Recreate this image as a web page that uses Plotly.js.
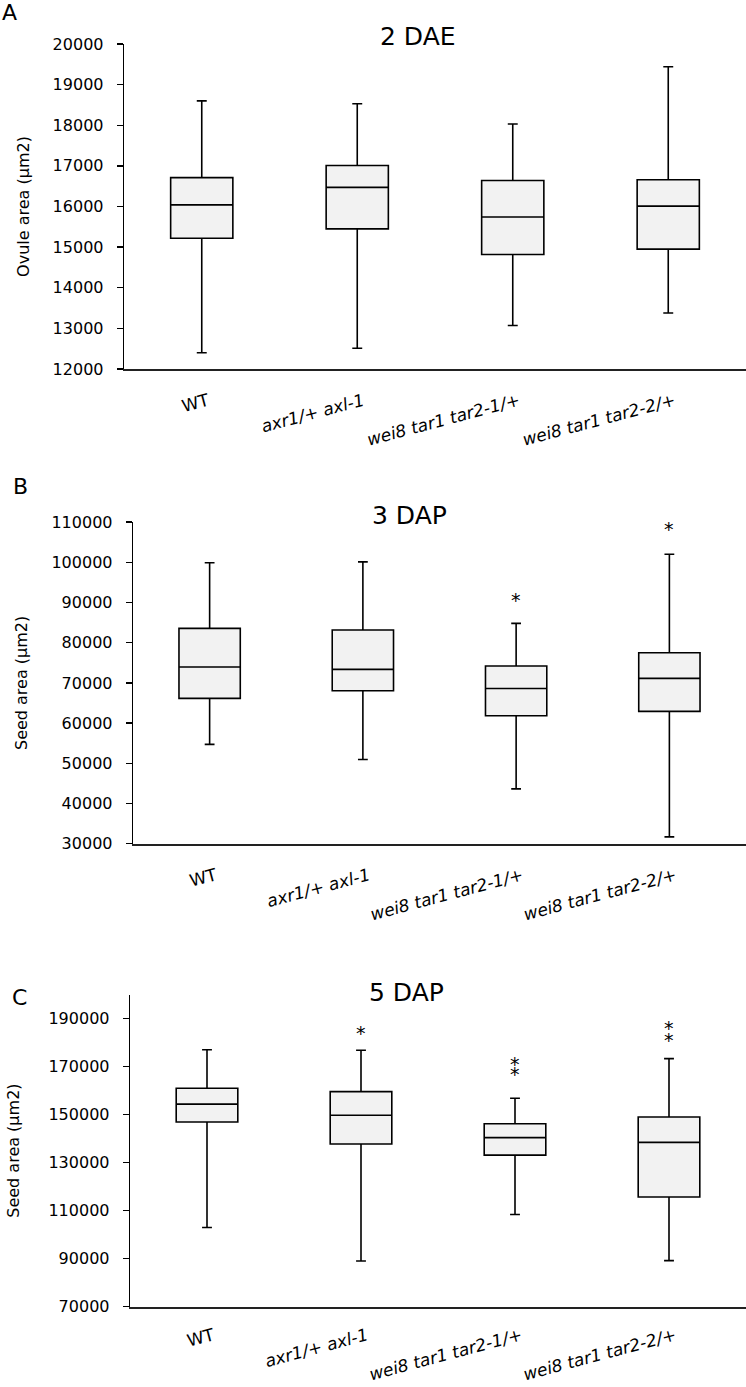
<!DOCTYPE html>
<html>
<head>
<meta charset="utf-8">
<script src="https://cdn.plot.ly/plotly-3.0.1.min.js"></script>
<style>html,body{margin:0;padding:0;background:#fff;}#chart{width:746px;height:1387px;}</style>
</head>
<body>
<div id="chart"></div>
<script>
// ---- data ----
const categories = ['WT', 'axr1/+ axl-1', 'wei8 tar1 tar2-1/+', 'wei8 tar1 tar2-2/+'];
const tickLabels = ['WT', '<i>axr1/+ axl-1</i>', '<i>wei8 tar1 tar2-1/+</i>', '<i>wei8 tar1 tar2-2/+</i>'];

// Panel A: 2 DAE, ovule area (µm2)
const dae2Min    = [12400, 12510, 13070, 13380];
const dae2Q1     = [15220, 15450, 14820, 14950];
const dae2Median = [16040, 16470, 15740, 16010];
const dae2Q3     = [16710, 17010, 16640, 16660];
const dae2Max    = [18600, 18530, 18030, 19440];

// Panel B: 3 DAP, seed area (µm2)
const dap3Min    = [54700, 50960, 43640, 31700];
const dap3Q1     = [66140, 68040, 61820, 62910];
const dap3Median = [73940, 73360, 68600, 71120];
const dap3Q3     = [83570, 83150, 74190, 77500];
const dap3Max    = [99900, 100100, 84810, 101990];
const dap3StarX  = ['wei8 tar1 tar2-1/+', 'wei8 tar1 tar2-2/+'];
const dap3StarY  = [91600, 109300];

// Panel C: 5 DAP, seed area (µm2)
const dap5Min    = [103000, 89000, 108400, 89200];
const dap5Q1     = [146900, 137760, 133120, 115700];
const dap5Median = [154350, 149700, 140420, 138440];
const dap5Q3     = [160970, 159540, 146200, 149000];
const dap5Max    = [177000, 176800, 156800, 173300];
const dap5StarX  = ['axr1/+ axl-1', 'wei8 tar1 tar2-1/+', 'wei8 tar1 tar2-1/+', 'wei8 tar1 tar2-2/+', 'wei8 tar1 tar2-2/+'];
const dap5StarY  = [185600, 172900, 168400, 187700, 182700];

const panelTitles = ['2 DAE', '3 DAP', '5 DAP'];
const panelLetters = ['A', 'B', 'C'];
const yTitles = ['Ovule area (µm2)', 'Seed area (µm2)', 'Seed area (µm2)'];

// ---- drawing ----
const FONT = 'DejaVu Sans';
function boxTrace(q1, med, q3, lo, hi, xa, ya) {
  return {
    type: 'box', x: categories, q1: q1, median: med, q3: q3,
    lowerfence: lo, upperfence: hi, boxpoints: false,
    xaxis: xa, yaxis: ya, width: 0.4, whiskerwidth: 0.16,
    fillcolor: '#f2f2f2', line: {color: '#000', width: 1.6},
    hoverinfo: 'skip', showlegend: false
  };
}
function starAnnotations(xs, ys, xa, ya) {
  return xs.map((x, i) => ({
    text: '*', x: x, y: ys[i], xref: xa, yref: ya, showarrow: false,
    xanchor: 'center', yanchor: 'middle', yshift: -4,
    font: {family: FONT, size: 19, color: '#000'}
  }));
}

const data = [
  boxTrace(dae2Q1, dae2Median, dae2Q3, dae2Min, dae2Max, 'x', 'y'),
  boxTrace(dap3Q1, dap3Median, dap3Q3, dap3Min, dap3Max, 'x2', 'y2'),
  boxTrace(dap5Q1, dap5Median, dap5Q3, dap5Min, dap5Max, 'x3', 'y3')
];

function xAxis(domain, anchor, standoff) {
  return {
    domain: domain, anchor: anchor, type: 'category', range: [-0.5, 3.5],
    showline: true, linecolor: '#222', linewidth: 2, ticks: '',
    tickmode: 'array', tickvals: categories, ticktext: tickLabels,
    tickangle: -15, ticklabelstandoff: standoff, ticklabelshift: 6,
    tickfont: {family: FONT, size: 17, color: '#000'},
    showgrid: false, zeroline: false, fixedrange: true, automargin: false
  };
}
function yAxis(domain, anchor, range, tick0, dtick, title, standoff) {
  return {
    domain: domain, anchor: anchor, range: range, tick0: tick0, dtick: dtick,
    tickformat: 'd', separatethousands: false,
    showline: true, linecolor: '#000', linewidth: 1.3, ticks: 'outside', ticklen: 6,
    tickcolor: '#000', tickwidth: 1.3, ticklabelstandoff: 10,
    tickfont: {family: FONT, size: 16, color: '#000'},
    showgrid: false, zeroline: false, fixedrange: true, automargin: false,
    title: {text: title, font: {family: FONT, size: 16, color: '#000'}, standoff: standoff}
  };
}

const H = 1387, W = 746;
const py = p => 1 - p / H;
const px = p => p / W;
function paperText(text, x, y, size, xanchor) {
  return {text: text, x: px(x), y: py(y), xref: 'paper', yref: 'paper', showarrow: false,
          xanchor: xanchor, yanchor: 'middle', font: {family: FONT, size: size, color: '#000'}};
}

const layout = {
  width: W, height: H,
  margin: {l: 0, r: 0, t: 0, b: 0},
  paper_bgcolor: '#fff', plot_bgcolor: '#fff',
  showlegend: false,
  font: {family: FONT, color: '#000'},
  xaxis:  xAxis([px(124), 1], 'y', 14),
  yaxis:  yAxis([py(369), py(44)], 'x', [12000, 20000], 12000, 1000, yTitles[0], 19),
  xaxis2: xAxis([px(133), 1], 'y2', 14),
  yaxis2: yAxis([py(843.7), py(522.1)], 'x2', [30000, 110000], 30000, 10000, yTitles[1], 19),
  xaxis3: xAxis([px(130), 1], 'y3', 11),
  yaxis3: yAxis([py(1306.7), py(994.5)], 'x3', [70000, 200000], 70000, 20000, yTitles[2], 24),
  annotations: [
    paperText(panelTitles[0], 418, 37, 25, 'center'),
    paperText(panelTitles[1], 409, 515, 25, 'center'),
    paperText(panelTitles[2], 406, 992, 25, 'center'),
    paperText(panelLetters[0], 0, 13, 22, 'left'),
    paperText(panelLetters[1], 11, 486, 22, 'left'),
    paperText(panelLetters[2], 10, 997, 22, 'left')
  ].concat(starAnnotations(dap3StarX, dap3StarY, 'x2', 'y2'))
   .concat(starAnnotations(dap5StarX, dap5StarY, 'x3', 'y3'))
};

Plotly.newPlot('chart', data, layout, {staticPlot: true, displayModeBar: false});
</script>
</body>
</html>
